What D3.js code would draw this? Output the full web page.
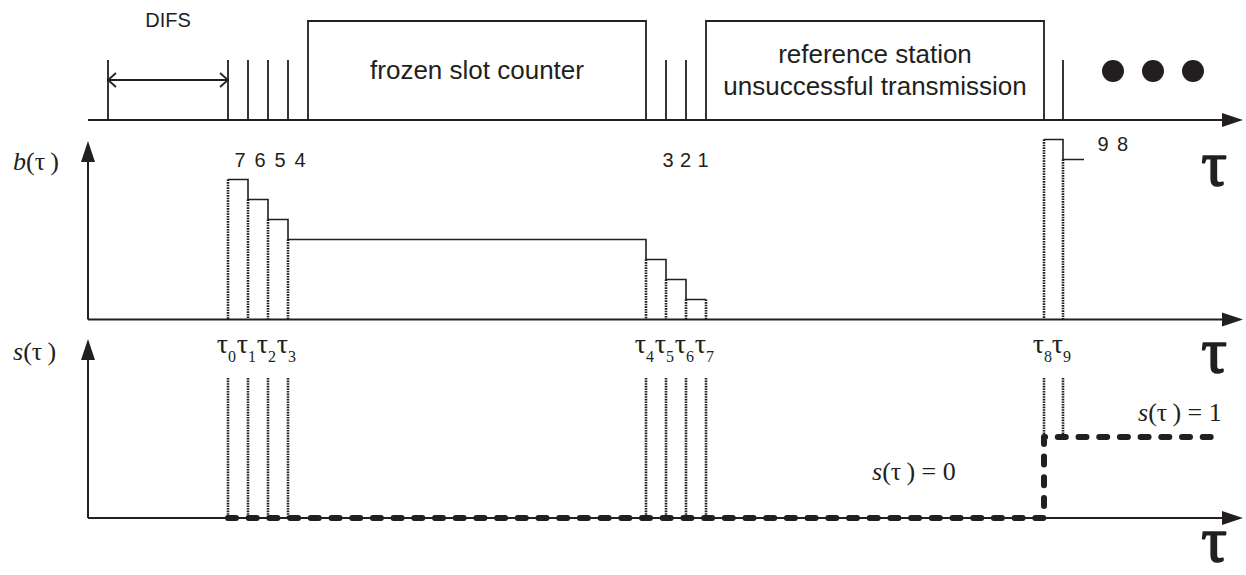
<!DOCTYPE html>
<html>
<head>
<meta charset="utf-8">
<script src="https://cdn.jsdelivr.net/npm/d3@7"></script>
<style>
  html, body { margin: 0; padding: 0; background: #fff; }
  svg { display: block; }
</style>
</head>
<body>
<svg id="chart" width="1246" height="575"></svg>
<script>
// Time runs in backoff slots, with τ0 placed at 0.
const tauNames = ["0", "1", "2", "3", "4", "5", "6", "7", "8", "9"];
const tauTimes = [0, 1, 2, 3, 20.9, 21.9, 22.9, 23.9, 40.8, 41.75];

// Backoff counter b(τ): countdown from 7 to 1, then the new window after the failed transmission.
const countdownTimes = [0, 1, 2, 3, 20.9, 21.9, 22.9, 23.9];
const countdownValues = [7, 6, 5, 4, 3, 2, 1, 1];
const retryTimes = [40.8, 41.75, 42.8];
const retryValues = [9, 8, 8];

// Backoff stage s(τ)
const stageTimes = [0, 40.8, 49.75];
const stageValues = [0, 1, 1];

// Channel activity on the top line
const difsSpan = [-6, 0];
const slotTicks = [0, 1, 2, 3, 21.9, 22.9, 41.75];
const frozenSpan = [4, 20.9];
const txSpan = [23.9, 40.8];
const moreDots = [44.25, 46.25, 48.25];

const timeDomain = [-7, 50.75];
const bDomain = [0, 9];
const sDomain = [0, 1];

const ink = "#231f20";
const serif = "'Liberation Serif', 'Times New Roman', serif";
const sans = "'Liberation Sans', Arial, sans-serif";

const svg = d3.select("#chart");

const x = d3.scaleLinear().domain(timeDomain).range([88, 1243]);
const yB = d3.scaleLinear().domain(bDomain).range([319.5, 139.5]);
const yS = d3.scaleLinear().domain(sDomain).range([518, 437]);

const laneY = 120;
const tickTop = 60;
const boxTop = 21;

// ---- axes with filled arrow heads ----
function hAxis(y) {
  const x0 = x.range()[0], x1 = x.range()[1];
  svg.append("line").attr("x1", x0).attr("x2", x1 - 16).attr("y1", y).attr("y2", y)
    .attr("stroke", ink).attr("stroke-width", 2);
  svg.append("path")
    .attr("d", `M${x1},${y} L${x1 - 21},${y - 7} L${x1 - 21},${y + 7} Z`)
    .attr("fill", ink);
}
function vAxis(xPos, yBottom, yTip) {
  svg.append("line").attr("x1", xPos).attr("x2", xPos).attr("y1", yBottom).attr("y2", yTip + 16)
    .attr("stroke", ink).attr("stroke-width", 2);
  svg.append("path")
    .attr("d", `M${xPos},${yTip} L${xPos - 7},${yTip + 21} L${xPos + 7},${yTip + 21} Z`)
    .attr("fill", ink);
}

hAxis(laneY);
hAxis(yB(0));
hAxis(yS(0));
vAxis(x.range()[0], yB(0), 141);
vAxis(x.range()[0], yS(0), 339);

// ---- top line: DIFS, slots, busy periods ----
const lane = svg.append("g");
[difsSpan[0], ...slotTicks].forEach(t => {
  lane.append("line").attr("x1", x(t)).attr("x2", x(t)).attr("y1", tickTop).attr("y2", laneY)
    .attr("stroke", ink).attr("stroke-width", 1.8);
});
[frozenSpan, txSpan].forEach(span => {
  lane.append("path")
    .attr("d", `M${x(span[0])},${laneY} V${boxTop} H${x(span[1])} V${laneY}`)
    .attr("fill", "none").attr("stroke", ink).attr("stroke-width", 1.8);
});

// DIFS double arrow
const dy = 80;
lane.append("line").attr("x1", x(difsSpan[0])).attr("x2", x(difsSpan[1])).attr("y1", dy).attr("y2", dy)
  .attr("stroke", ink).attr("stroke-width", 1.8);
lane.append("path")
  .attr("d", `M${x(difsSpan[0]) + 8},${dy - 7} L${x(difsSpan[0])},${dy} L${x(difsSpan[0]) + 8},${dy + 7}
              M${x(difsSpan[1]) - 8},${dy - 7} L${x(difsSpan[1])},${dy} L${x(difsSpan[1]) - 8},${dy + 7}`)
  .attr("fill", "none").attr("stroke", ink).attr("stroke-width", 1.8);
lane.append("text").attr("x", (x(difsSpan[0]) + x(difsSpan[1])) / 2).attr("y", 27)
  .attr("text-anchor", "middle").attr("font-family", sans).attr("font-size", 20).attr("fill", ink)
  .text("DIFS");

lane.append("text").attr("x", (x(frozenSpan[0]) + x(frozenSpan[1])) / 2).attr("y", 79)
  .attr("text-anchor", "middle").attr("font-family", sans).attr("font-size", 26).attr("fill", ink)
  .text("frozen slot counter");
const txMid = (x(txSpan[0]) + x(txSpan[1])) / 2;
lane.append("text").attr("x", txMid).attr("y", 63)
  .attr("text-anchor", "middle").attr("font-family", sans).attr("font-size", 26).attr("fill", ink)
  .text("reference station");
lane.append("text").attr("x", txMid).attr("y", 95)
  .attr("text-anchor", "middle").attr("font-family", sans).attr("font-size", 26).attr("fill", ink)
  .text("unsuccessful transmission");

lane.selectAll("circle.more").data(moreDots).enter().append("circle")
  .attr("cx", d => x(d)).attr("cy", 71).attr("r", 11).attr("fill", ink);

// ---- b(τ) panel ----
const stepLine = d3.line().x(d => x(d[0])).y(d => yB(d[1])).curve(d3.curveStepAfter);
svg.append("path").datum(d3.zip(countdownTimes, countdownValues)).attr("d", stepLine)
  .attr("fill", "none").attr("stroke", ink).attr("stroke-width", 1.6);
svg.append("path").datum(d3.zip(retryTimes, retryValues)).attr("d", stepLine)
  .attr("fill", "none").attr("stroke", ink).attr("stroke-width", 1.6);

// counter value held from each τk, used for the dotted drop lines
const levelAtTau = [...countdownValues, retryValues[0], retryValues[1]];
const dotted = "1.6,1";
const dottedWidth = 2.6;
tauTimes.forEach((t, i) => {
  svg.append("line").attr("x1", x(t)).attr("x2", x(t))
    .attr("y1", yB(levelAtTau[i])).attr("y2", yB(0))
    .attr("stroke", ink).attr("stroke-width", dottedWidth).attr("stroke-dasharray", dotted);
});

// counter value labels above each step
const numLabels = [];
for (let k = 0; k < 4; k++) numLabels.push({ v: countdownValues[k], px: x(countdownTimes[k]) + 12 });
for (let k = 4; k < 7; k++) numLabels.push({ v: countdownValues[k], px: x(countdownTimes[k + 1]) + 2 - (k - 4) * 2.5 });
svg.selectAll("text.num").data(numLabels).enter().append("text")
  .attr("x", d => d.px).attr("y", 167).attr("text-anchor", "middle")
  .attr("font-family", sans).attr("font-size", 20).attr("fill", ink).text(d => d.v);
[[retryValues[0], 1103], [retryValues[1], 1122.5]].forEach(([v, px]) => {
  svg.append("text").attr("x", px).attr("y", 151).attr("text-anchor", "middle")
    .attr("font-family", sans).attr("font-size", 20).attr("fill", ink).text(v);
});

// ---- s(τ) panel ----
const sLine = d3.line().x(d => x(d[0])).y(d => yS(d[1])).curve(d3.curveStepAfter);
svg.append("path").datum(d3.zip(stageTimes, stageValues)).attr("d", sLine)
  .attr("fill", "none").attr("stroke", ink).attr("stroke-width", 6)
  .attr("stroke-linecap", "round").attr("stroke-linejoin", "round")
  .attr("stroke-dasharray", "8,12.7");

// dotted marks at each τk down to the stage line
const stageAtTau = tauTimes.map(t => (t >= stageTimes[1] ? 1 : 0));
tauTimes.forEach((t, i) => {
  svg.append("line").attr("x1", x(t)).attr("x2", x(t))
    .attr("y1", 378).attr("y2", yS(stageAtTau[i]))
    .attr("stroke", ink).attr("stroke-width", dottedWidth).attr("stroke-dasharray", dotted);
});

// τk labels
const tauLbl = svg.selectAll("g.tau").data(tauTimes).enter().append("g");
tauLbl.append("text").attr("x", d => x(d)).attr("y", 353).attr("text-anchor", "end")
  .attr("font-family", serif).attr("font-size", 28).attr("fill", ink).text("τ");
tauLbl.append("text").attr("x", d => x(d)).attr("y", 362).attr("text-anchor", "start")
  .attr("font-family", serif).attr("font-size", 16).attr("fill", ink).text((d, i) => tauNames[i]);

// ---- axis titles ----
function fnLabel(px, py, name, suffix) {
  const t = svg.append("text").attr("x", px).attr("y", py)
    .attr("font-family", serif).attr("font-size", 26).attr("fill", ink);
  t.append("tspan").attr("font-style", "italic").text(name);
  t.append("tspan").text("(τ\u2009)" + (suffix || ""));
}
fnLabel(13, 170, "b");
fnLabel(13, 360, "s");
fnLabel(872, 480, "s", " = " + stageValues[0]);
fnLabel(1138, 421, "s", " = " + stageValues[1]);

// large time-axis symbols
[185, 372, 561].forEach(py => {
  svg.append("text").attr("x", 1214).attr("y", py).attr("text-anchor", "middle")
    .attr("font-family", serif).attr("font-size", 64)
    .attr("fill", ink).attr("stroke", ink).attr("stroke-width", 1.6)
    .attr("stroke-linejoin", "round").text("τ");
});
</script>
</body>
</html>
